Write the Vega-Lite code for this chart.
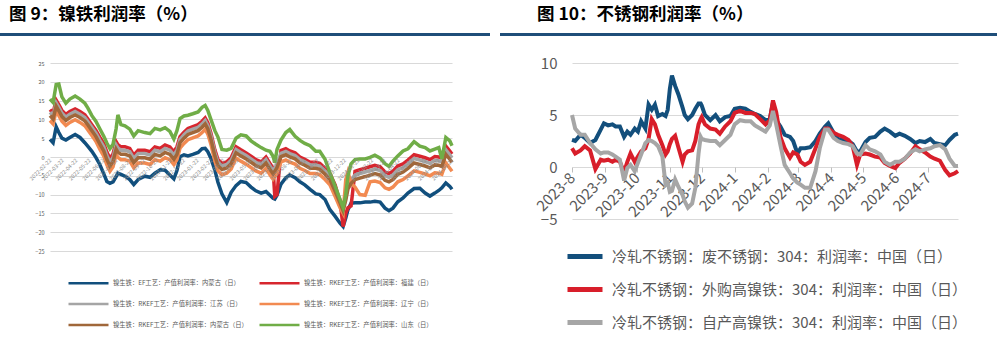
{
"$schema":"https://vega.github.io/schema/vega-lite/v6.json",
"background":"#ffffff",
"padding":{"left":0,"top":6,"right":0,"bottom":0},
"config":{"font":"Noto Sans CJK SC","view":{"stroke":null}},
"bounds":"flush",
"spacing":30,
"resolve":{"scale":{"color":"independent"},"legend":{"color":"independent"}},
"vconcat":[
{"hconcat":[
 {"width":490,"height":3,"view":{"fill":"#1f4e79","stroke":null},
  "title":{"text":"图 9：镍铁利润率（%）","anchor":"start","frame":"group","fontSize":17.5,"fontWeight":"bold","color":"#000000","font":"Noto Sans CJK SC","offset":-10,"dx":9,"baseline":"bottom"},
  "data":{"values":[{}]},"mark":{"type":"point","opacity":0},"encoding":{}},
 {"width":497,"height":3,"view":{"fill":"#1f4e79","stroke":null},
  "title":{"text":"图 10：不锈钢利润率（%）","anchor":"start","frame":"group","fontSize":17.5,"fontWeight":"bold","color":"#000000","font":"Noto Sans CJK SC","offset":-10,"dx":37,"baseline":"bottom"},
  "data":{"values":[{}]},"mark":{"type":"point","opacity":0},"encoding":{}}
],"spacing":10,"bounds":"flush"},
{"hconcat":[
 {"width":40,"height":1,"data":{"values":[{}]},"mark":{"type":"point","opacity":0},"encoding":{}},
 {"width":402,"height":188,
  "data":{"values":[
{"d":"2022-02-22","E":4.7,"R":12.6,"Gy":11.9,"O":9.7,"B":11,"G":15.4},
{"d":"2022-03-01","E":3.8,"R":11.7,"Gy":11.0,"O":8.8,"B":10.1,"G":14.5},
{"d":"2022-03-08","E":8.0,"R":15.1,"Gy":14.4,"O":12.2,"B":13.5,"G":19.3},
{"d":"2022-03-14","E":6.5,"R":13.9,"Gy":13.2,"O":11.0,"B":12.3,"G":19.4},
{"d":"2022-03-21","E":5.0,"R":12.4,"Gy":11.7,"O":9.5,"B":10.8,"G":16.0},
{"d":"2022-03-30","E":4.5,"R":11.3,"Gy":10.6,"O":8.4,"B":9.7,"G":14.3},
{"d":"2022-04-08","E":5.2,"R":12.1,"Gy":11.4,"O":9.2,"B":10.5,"G":15.4},
{"d":"2022-04-20","E":6.0,"R":12.8,"Gy":12.1,"O":9.9,"B":11.2,"G":16.2},
{"d":"2022-05-01","E":5.2,"R":12.1,"Gy":11.4,"O":9.2,"B":10.5,"G":15.4},
{"d":"2022-05-12","E":3.8,"R":11.2,"Gy":10.5,"O":8.3,"B":9.6,"G":14.3},
{"d":"2022-05-19","E":2.8,"R":10.1,"Gy":9.4,"O":7.2,"B":8.5,"G":13.0},
{"d":"2022-05-28","E":1.5,"R":8.6,"Gy":7.9,"O":5.7,"B":7.0,"G":11.0},
{"d":"2022-06-06","E":-0.1,"R":7.1,"Gy":6.4,"O":4.2,"B":5.5,"G":9.5},
{"d":"2022-06-15","E":-2.0,"R":5.3,"Gy":4.5,"O":2.1,"B":3.5,"G":7.5},
{"d":"2022-06-24","E":-4.5,"R":3.6,"Gy":2.7,"O":0.2,"B":1.6,"G":5.5},
{"d":"2022-07-01","E":-6.5,"R":1.3,"Gy":0.4,"O":-2.1,"B":-0.7,"G":3.7},
{"d":"2022-07-08","E":-7.0,"R":-0.4,"Gy":-1.3,"O":-3.8,"B":-2.4,"G":2.2},
{"d":"2022-07-15","E":-6.6,"R":0.8,"Gy":-0.1,"O":-2.6,"B":-1.2,"G":3.4},
{"d":"2022-07-22","E":-5.2,"R":4.1,"Gy":3.2,"O":0.7,"B":2.1,"G":7.5},
{"d":"2022-07-26","E":-4.3,"R":3.3,"Gy":2.4,"O":-0.1,"B":1.3,"G":11.2},
{"d":"2022-08-02","E":-4.6,"R":2.7,"Gy":1.8,"O":-0.7,"B":0.7,"G":8.6},
{"d":"2022-08-11","E":-5.1,"R":2.7,"Gy":1.8,"O":-0.7,"B":0.7,"G":8.3},
{"d":"2022-08-22","E":-6.0,"R":2.3,"Gy":1.4,"O":-1.1,"B":0.3,"G":7.4},
{"d":"2022-08-31","E":-7.3,"R":0.5,"Gy":-0.4,"O":-2.9,"B":-1.5,"G":5.6},
{"d":"2022-09-10","E":-6.0,"R":1.8,"Gy":0.9,"O":-1.6,"B":-0.2,"G":7.0},
{"d":"2022-09-25","E":-5.1,"R":1.8,"Gy":0.9,"O":-1.6,"B":-0.2,"G":6.5},
{"d":"2022-10-07","E":-5.4,"R":1.4,"Gy":0.5,"O":-2.0,"B":-0.6,"G":6.2},
{"d":"2022-10-18","E":-4.3,"R":2.7,"Gy":1.8,"O":-0.7,"B":0.7,"G":7.6},
{"d":"2022-10-30","E":-3.4,"R":2.3,"Gy":1.4,"O":-1.1,"B":0.3,"G":7.2},
{"d":"2022-11-10","E":-3.5,"R":3.2,"Gy":2.3,"O":-0.2,"B":1.2,"G":7.8},
{"d":"2022-11-21","E":-4.8,"R":2.7,"Gy":1.8,"O":-0.7,"B":0.7,"G":6.8},
{"d":"2022-11-30","E":-5.8,"R":1.4,"Gy":0.5,"O":-2.0,"B":-0.6,"G":4.8},
{"d":"2022-12-07","E":-3.6,"R":2.7,"Gy":1.8,"O":-0.7,"B":0.7,"G":7.0},
{"d":"2022-12-14","E":0.1,"R":5.4,"Gy":4.7,"O":2.4,"B":3.8,"G":10.2},
{"d":"2022-12-23","E":0.6,"R":6.6,"Gy":5.9,"O":3.6,"B":5.0,"G":10.9},
{"d":"2023-01-01","E":0.3,"R":7.6,"Gy":6.9,"O":4.6,"B":6.0,"G":11.1},
{"d":"2023-01-12","E":0.7,"R":8.1,"Gy":7.4,"O":5.1,"B":6.5,"G":11.5},
{"d":"2023-01-24","E":1.2,"R":8.6,"Gy":7.9,"O":5.6,"B":7.0,"G":12.0},
{"d":"2023-02-02","E":2.2,"R":9.5,"Gy":8.8,"O":6.5,"B":7.9,"G":13.2},
{"d":"2023-02-09","E":2.3,"R":10.4,"Gy":9.7,"O":7.4,"B":8.8,"G":13.7},
{"d":"2023-02-15","E":1.4,"R":9.1,"Gy":8.4,"O":6.1,"B":7.5,"G":12.4},
{"d":"2023-02-22","E":-0.3,"R":6.4,"Gy":5.7,"O":3.4,"B":4.8,"G":10.0},
{"d":"2023-03-03","E":-3.5,"R":1.9,"Gy":1.2,"O":-1.1,"B":0.3,"G":7.0},
{"d":"2023-03-10","E":-6.7,"R":-0.7,"Gy":-1.4,"O":-3.7,"B":-2.3,"G":5.3},
{"d":"2023-03-19","E":-9.8,"R":-1.7,"Gy":-2.4,"O":-4.7,"B":-3.3,"G":2.0},
{"d":"2023-03-30","E":-12.1,"R":-1.3,"Gy":-2.0,"O":-4.3,"B":-2.9,"G":1.8},
{"d":"2023-04-09","E":-9.4,"R":-0.2,"Gy":-0.9,"O":-3.2,"B":-1.8,"G":2.3},
{"d":"2023-04-20","E":-7.6,"R":2.7,"Gy":2.0,"O":-0.3,"B":1.1,"G":5.0},
{"d":"2023-05-01","E":-6.5,"R":1.9,"Gy":1.2,"O":-1.1,"B":0.3,"G":5.9},
{"d":"2023-05-13","E":-6.8,"R":1.1,"Gy":0.4,"O":-1.9,"B":-0.5,"G":5.6},
{"d":"2023-05-24","E":-8.0,"R":0.2,"Gy":-0.5,"O":-2.8,"B":-1.4,"G":4.3},
{"d":"2023-06-04","E":-9.0,"R":-0.7,"Gy":-1.4,"O":-3.7,"B":-2.3,"G":3.4},
{"d":"2023-06-16","E":-9.6,"R":-1.3,"Gy":-2.0,"O":-4.3,"B":-2.9,"G":2.5},
{"d":"2023-06-27","E":-9.2,"R":0.0,"Gy":-0.7,"O":-3.0,"B":-1.6,"G":1.8},
{"d":"2023-07-06","E":-10.2,"R":-1.7,"Gy":-2.4,"O":-4.7,"B":-3.3,"G":1.5},
{"d":"2023-07-13","E":-11.0,"R":-2.9,"Gy":-3.6,"O":-5.9,"B":-4.5,"G":0.2},
{"d":"2023-07-17","E":-11.2,"R":-10.5,"Gy":-2.9,"O":-5.2,"B":-3.8,"G":-1.5},
{"d":"2023-07-22","E":-10.2,"R":-10.0,"Gy":-1.9,"O":-4.2,"B":-2.8,"G":2.0},
{"d":"2023-07-31","E":-7.2,"R":1.7,"Gy":1.0,"O":-1.3,"B":0.1,"G":4.5},
{"d":"2023-08-11","E":-5.5,"R":2.2,"Gy":1.5,"O":-0.8,"B":0.6,"G":6.5},
{"d":"2023-08-20","E":-4.8,"R":1.6,"Gy":0.9,"O":-1.4,"B":0.0,"G":7.3},
{"d":"2023-09-01","E":-5.5,"R":1.1,"Gy":0.4,"O":-1.9,"B":-0.5,"G":5.5},
{"d":"2023-09-12","E":-6.6,"R":0.0,"Gy":-0.7,"O":-3.0,"B":-1.6,"G":4.4},
{"d":"2023-09-23","E":-7.4,"R":-0.6,"Gy":-1.3,"O":-3.6,"B":-2.2,"G":3.6},
{"d":"2023-10-05","E":-8.6,"R":-1.4,"Gy":-2.1,"O":-4.4,"B":-3.0,"G":3.0},
{"d":"2023-10-18","E":-9.8,"R":-1.4,"Gy":-2.1,"O":-4.4,"B":-3.0,"G":1.5},
{"d":"2023-10-27","E":-10.0,"R":-1.7,"Gy":-2.4,"O":-4.7,"B":-3.3,"G":1.5},
{"d":"2023-11-08","E":-11.3,"R":-3.0,"Gy":-3.7,"O":-6.0,"B":-4.6,"G":-0.6},
{"d":"2023-11-19","E":-14.0,"R":-4.4,"Gy":-5.1,"O":-7.4,"B":-6.0,"G":-4.2},
{"d":"2023-12-01","E":-15.8,"R":-7.5,"Gy":-8.2,"O":-10.5,"B":-9.1,"G":-7.8},
{"d":"2023-12-12","E":-17.6,"R":-12.0,"Gy":-11.3,"O":-13.5,"B":-12.2,"G":-11.3},
{"d":"2023-12-19","E":-18.5,"R":-18.5,"Gy":-13.8,"O":-15.0,"B":-14.3,"G":-13.5},
{"d":"2023-12-25","E":-16.2,"R":-15.0,"Gy":-10.8,"O":-6.0,"B":-11.5,"G":-10.0},
{"d":"2023-12-30","E":-14.0,"R":-13.5,"Gy":-7.6,"O":-4.0,"B":-8.5,"G":-5.0},
{"d":"2024-01-06","E":-12.3,"R":-13.0,"Gy":-6.1,"O":-7.0,"B":-7.0,"G":-1.8},
{"d":"2024-01-15","E":-12.2,"R":-3.8,"Gy":-4.8,"O":-8.0,"B":-6.0,"G":-0.7},
{"d":"2024-01-26","E":-12.2,"R":-3.4,"Gy":-4.4,"O":-10.0,"B":-5.6,"G":-0.5},
{"d":"2024-02-07","E":-12.0,"R":-3.0,"Gy":-4.0,"O":-10.2,"B":-5.2,"G":-0.5},
{"d":"2024-02-18","E":-12.0,"R":-2.6,"Gy":-3.6,"O":-6.6,"B":-4.8,"G":-0.1},
{"d":"2024-02-29","E":-11.8,"R":-2.2,"Gy":-3.2,"O":-6.4,"B":-4.4,"G":0.5},
{"d":"2024-03-12","E":-12.0,"R":-2.6,"Gy":-3.6,"O":-6.8,"B":-4.8,"G":-0.3},
{"d":"2024-03-23","E":-13.6,"R":-4.0,"Gy":-5.0,"O":-8.2,"B":-6.2,"G":-1.8},
{"d":"2024-04-01","E":-14.3,"R":-4.4,"Gy":-5.4,"O":-8.6,"B":-6.6,"G":-2.5},
{"d":"2024-04-10","E":-13.6,"R":-3.8,"Gy":-4.8,"O":-8.0,"B":-6.0,"G":-1.1},
{"d":"2024-04-21","E":-11.9,"R":-2.4,"Gy":-3.4,"O":-6.6,"B":-4.6,"G":0.3},
{"d":"2024-05-03","E":-10.9,"R":-1.8,"Gy":-2.8,"O":-6.0,"B":-4.0,"G":1.6},
{"d":"2024-05-14","E":-9.6,"R":-0.8,"Gy":-1.8,"O":-5.0,"B":-3.0,"G":2.2},
{"d":"2024-05-28","E":-8.4,"R":0.6,"Gy":-0.4,"O":-3.7,"B":-1.6,"G":4.1},
{"d":"2024-06-10","E":-8.3,"R":0.2,"Gy":-0.8,"O":-4.1,"B":-2.0,"G":2.9},
{"d":"2024-06-22","E":-9.6,"R":-0.2,"Gy":-1.2,"O":-4.5,"B":-2.4,"G":2.5},
{"d":"2024-07-03","E":-10.4,"R":-0.7,"Gy":-1.7,"O":-5.0,"B":-2.9,"G":1.6},
{"d":"2024-07-14","E":-9.6,"R":0.1,"Gy":-0.9,"O":-4.2,"B":-2.1,"G":2.1},
{"d":"2024-07-23","E":-8.9,"R":0.0,"Gy":-1.0,"O":-4.3,"B":-2.2,"G":2.5},
{"d":"2024-07-30","E":-8.2,"R":-0.3,"Gy":-1.3,"O":-4.6,"B":-2.5,"G":-0.5},
{"d":"2024-08-08","E":-6.9,"R":2.9,"Gy":1.9,"O":-1.6,"B":0.7,"G":5.2},
{"d":"2024-08-17","E":-7.8,"R":1.6,"Gy":0.6,"O":-3.0,"B":-0.6,"G":4.3},
{"d":"2024-08-22","E":-8.6,"R":0.8,"Gy":-0.2,"O":-3.8,"B":-1.4,"G":3.0}
  ]},
  "transform":[
   {"fold":["E","R","Gy","O","B","G"],"as":["k","v"]},
   {"lookup":"k","from":{"data":{"values":[
     {"k":"E","name":"镍生铁：EF工艺：产值利润率：内蒙古（日）"},
     {"k":"R","name":"镍生铁：RKEF工艺：产值利润率：福建（日）"},
     {"k":"Gy","name":"镍生铁：RKEF工艺：产值利润率：江苏（日）"},
     {"k":"O","name":"镍生铁：RKEF工艺：产值利润率：辽宁（日）"},
     {"k":"B","name":"镍生铁：RKEF工艺：产值利润率：内蒙古（日）"},
     {"k":"G","name":"镍生铁：RKEF工艺：产值利润率：山东（日）"}]},"key":"k","fields":["name"]}}
  ],
  "mark":{"type":"line","strokeWidth":3.5},
  "encoding":{
   "x":{"field":"d","type":"temporal","scale":{"type":"utc"},
    "axis":{"title":null,"format":"%Y-%m-%d","labelAngle":-45,"labelAlign":"right","labelBaseline":"middle","labelFontSize":5.5,"labelColor":"#8c8c8c","ticks":false,"domain":false,"grid":false,"offset":-94,"labelPadding":2,"labelOverlap":false,"labelFlush":false,"zindex":1,
     "values":[
      {"year":2022,"month":2,"date":22,"utc":true},{"year":2022,"month":3,"date":22,"utc":true},{"year":2022,"month":4,"date":22,"utc":true},{"year":2022,"month":5,"date":22,"utc":true},{"year":2022,"month":6,"date":22,"utc":true},{"year":2022,"month":7,"date":22,"utc":true},{"year":2022,"month":8,"date":22,"utc":true},{"year":2022,"month":9,"date":22,"utc":true},{"year":2022,"month":10,"date":22,"utc":true},{"year":2022,"month":11,"date":22,"utc":true},{"year":2022,"month":12,"date":22,"utc":true},
      {"year":2023,"month":1,"date":22,"utc":true},{"year":2023,"month":2,"date":22,"utc":true},{"year":2023,"month":3,"date":22,"utc":true},{"year":2023,"month":4,"date":22,"utc":true},{"year":2023,"month":5,"date":22,"utc":true},{"year":2023,"month":6,"date":22,"utc":true},{"year":2023,"month":7,"date":22,"utc":true},{"year":2023,"month":8,"date":22,"utc":true},{"year":2023,"month":9,"date":22,"utc":true},{"year":2023,"month":10,"date":22,"utc":true},{"year":2023,"month":11,"date":22,"utc":true},{"year":2023,"month":12,"date":22,"utc":true},
      {"year":2024,"month":1,"date":22,"utc":true},{"year":2024,"month":2,"date":22,"utc":true},{"year":2024,"month":3,"date":22,"utc":true},{"year":2024,"month":4,"date":22,"utc":true},{"year":2024,"month":5,"date":22,"utc":true},{"year":2024,"month":6,"date":22,"utc":true},{"year":2024,"month":7,"date":22,"utc":true},{"year":2024,"month":8,"date":22,"utc":true}]}},
   "y":{"field":"v","type":"quantitative","scale":{"domain":[-25,25],"nice":false,"zero":false},
    "axis":{"title":null,"values":[-25,-20,-15,-10,-5,0,5,10,15,20,25],"labelFontSize":5.5,"labelColor":"#595959","labelPadding":6,"ticks":false,"domain":false,"grid":true,"gridColor":"#d9d9d9","gridWidth":1}},
   "color":{"field":"name","type":"nominal",
    "scale":{"domain":["镍生铁：EF工艺：产值利润率：内蒙古（日）","镍生铁：RKEF工艺：产值利润率：福建（日）","镍生铁：RKEF工艺：产值利润率：江苏（日）","镍生铁：RKEF工艺：产值利润率：辽宁（日）","镍生铁：RKEF工艺：产值利润率：内蒙古（日）","镍生铁：RKEF工艺：产值利润率：山东（日）"],
     "range":["#114f7d","#d7262e","#a5a5a5","#f28a51","#a0673a","#70ad47"]},
    "legend":{"title":null,"orient":"none","direction":"horizontal","legendX":17,"legendY":217,"columns":2,"symbolType":"stroke","symbolSize":1600,"symbolStrokeWidth":2.5,"clipHeight":6,"labelFontSize":6.3,"labelColor":"#595959","labelOffset":3,"rowPadding":14,"columnPadding":10,"labelLimit":300}}
  }},
 {"width":100,"height":1,"data":{"values":[{}]},"mark":{"type":"point","opacity":0},"encoding":{}},
 {"width":386,"height":156,
  "data":{"values":[
{"d":"2023-08-01","W":2.6,"P":1.8,"Z":5.0},
{"d":"2023-08-04","W":2.5,"P":1.3,"Z":3.7},
{"d":"2023-08-09","W":3.1,"P":1.6,"Z":3.1},
{"d":"2023-08-13","W":2.8,"P":2.0,"Z":3.1},
{"d":"2023-08-18","W":2.3,"P":1.6,"Z":2.3},
{"d":"2023-08-23","W":2.6,"P":-0.2,"Z":1.7},
{"d":"2023-08-28","W":3.6,"P":0.7,"Z":1.3},
{"d":"2023-08-31","W":4.2,"P":0.6,"Z":1.4},
{"d":"2023-09-04","W":4.0,"P":0.7,"Z":1.4},
{"d":"2023-09-08","W":4.1,"P":0.5,"Z":1.2},
{"d":"2023-09-11","W":3.9,"P":0.7,"Z":1.0},
{"d":"2023-09-15","W":3.9,"P":0.5,"Z":0.7},
{"d":"2023-09-19","W":2.9,"P":-0.5,"Z":-1.3},
{"d":"2023-09-22","W":3.4,"P":0.5,"Z":-0.1},
{"d":"2023-09-25","W":3.1,"P":1.3,"Z":0.2},
{"d":"2023-09-29","W":3.7,"P":0.5,"Z":-0.4},
{"d":"2023-10-02","W":3.4,"P":1.0,"Z":0.4},
{"d":"2023-10-05","W":4.4,"P":1.5,"Z":1.2},
{"d":"2023-10-09","W":3.7,"P":1.8,"Z":2.3},
{"d":"2023-10-12","W":6.0,"P":2.7,"Z":2.6},
{"d":"2023-10-15","W":5.5,"P":4.6,"Z":2.5},
{"d":"2023-10-18","W":6.0,"P":4.1,"Z":2.3},
{"d":"2023-10-21","W":4.9,"P":3.1,"Z":2.0},
{"d":"2023-10-25","W":5.1,"P":2.1,"Z":1.0},
{"d":"2023-10-28","W":4.9,"P":1.2,"Z":-1.7},
{"d":"2023-10-30","W":5.5,"P":1.5,"Z":-1.5},
{"d":"2023-11-01","W":7.5,"P":2.2,"Z":-2.4},
{"d":"2023-11-03","W":8.8,"P":2.7,"Z":-2.3},
{"d":"2023-11-06","W":7.8,"P":3.0,"Z":-1.2},
{"d":"2023-11-09","W":7.0,"P":1.9,"Z":-1.9},
{"d":"2023-11-13","W":5.7,"P":0.5,"Z":-2.7},
{"d":"2023-11-15","W":5.0,"P":1.2,"Z":-3.3},
{"d":"2023-11-18","W":4.6,"P":1.5,"Z":-3.9},
{"d":"2023-11-22","W":5.0,"P":1.6,"Z":-3.5},
{"d":"2023-11-25","W":5.6,"P":2.5,"Z":-2.0},
{"d":"2023-11-28","W":6.1,"P":4.1,"Z":1.3},
{"d":"2023-11-30","W":6.1,"P":4.6,"Z":2.9},
{"d":"2023-12-01","W":5.9,"P":4.8,"Z":2.7},
{"d":"2023-12-04","W":5.0,"P":4.1,"Z":2.6},
{"d":"2023-12-09","W":4.5,"P":3.7,"Z":2.5},
{"d":"2023-12-14","W":5.0,"P":3.6,"Z":2.5},
{"d":"2023-12-18","W":4.4,"P":3.2,"Z":2.1},
{"d":"2023-12-23","W":4.8,"P":3.9,"Z":2.6},
{"d":"2023-12-28","W":4.9,"P":4.4,"Z":3.1},
{"d":"2024-01-01","W":5.6,"P":5.2,"Z":4.1},
{"d":"2024-01-06","W":5.7,"P":5.4,"Z":4.5},
{"d":"2024-01-11","W":5.6,"P":5.2,"Z":4.4},
{"d":"2024-01-16","W":5.3,"P":5.2,"Z":4.4},
{"d":"2024-01-20","W":5.1,"P":5.1,"Z":4.0},
{"d":"2024-01-25","W":4.9,"P":4.6,"Z":3.7},
{"d":"2024-01-30","W":4.5,"P":4.1,"Z":3.4},
{"d":"2024-02-03","W":4.6,"P":4.5,"Z":4.0},
{"d":"2024-02-06","W":6.2,"P":6.4,"Z":5.4},
{"d":"2024-02-09","W":4.5,"P":5.3,"Z":4.1},
{"d":"2024-02-13","W":3.9,"P":2.9,"Z":2.1},
{"d":"2024-02-17","W":3.1,"P":1.8,"Z":0.2},
{"d":"2024-02-22","W":2.9,"P":0.9,"Z":-0.6},
{"d":"2024-02-25","W":2.5,"P":1.4,"Z":-1.1},
{"d":"2024-02-29","W":1.3,"P":1.2,"Z":-1.5},
{"d":"2024-03-03","W":1.8,"P":0.5,"Z":-1.7},
{"d":"2024-03-07","W":1.8,"P":0.2,"Z":-2.0},
{"d":"2024-03-12","W":1.9,"P":0.5,"Z":-2.0},
{"d":"2024-03-17","W":2.5,"P":1.8,"Z":-0.4},
{"d":"2024-03-21","W":3.2,"P":2.9,"Z":1.8},
{"d":"2024-03-26","W":3.9,"P":3.7,"Z":3.6},
{"d":"2024-03-29","W":4.2,"P":3.7,"Z":3.6},
{"d":"2024-04-03","W":3.3,"P":3.3,"Z":2.8},
{"d":"2024-04-07","W":2.7,"P":3.1,"Z":2.5},
{"d":"2024-04-12","W":2.6,"P":2.9,"Z":2.3},
{"d":"2024-04-17","W":2.5,"P":2.6,"Z":2.2},
{"d":"2024-04-21","W":2.2,"P":2.0,"Z":2.0},
{"d":"2024-04-25","W":1.5,"P":0.2,"Z":1.3},
{"d":"2024-04-28","W":1.5,"P":1.2,"Z":1.2},
{"d":"2024-05-03","W":2.4,"P":1.3,"Z":2.1},
{"d":"2024-05-07","W":2.8,"P":1.2,"Z":1.7},
{"d":"2024-05-12","W":2.9,"P":1.0,"Z":1.5},
{"d":"2024-05-17","W":3.4,"P":0.9,"Z":1.2},
{"d":"2024-05-21","W":3.7,"P":0.4,"Z":0.5},
{"d":"2024-05-26","W":3.4,"P":0.1,"Z":0.2},
{"d":"2024-05-31","W":3.0,"P":-0.1,"Z":0.5},
{"d":"2024-06-04","W":3.2,"P":0.4,"Z":0.5},
{"d":"2024-06-09","W":3.0,"P":0.8,"Z":0.8},
{"d":"2024-06-14","W":2.7,"P":1.3,"Z":1.4},
{"d":"2024-06-19","W":2.3,"P":2.0,"Z":1.7},
{"d":"2024-06-23","W":2.5,"P":1.7,"Z":1.5},
{"d":"2024-06-28","W":2.4,"P":1.4,"Z":1.7},
{"d":"2024-07-03","W":2.7,"P":1.0,"Z":1.8},
{"d":"2024-07-07","W":2.3,"P":0.8,"Z":2.0},
{"d":"2024-07-12","W":2.2,"P":0.6,"Z":2.1},
{"d":"2024-07-17","W":2.1,"P":-0.3,"Z":1.7},
{"d":"2024-07-21","W":2.6,"P":-0.8,"Z":0.8},
{"d":"2024-07-26","W":3.1,"P":-0.6,"Z":0.1},
{"d":"2024-07-29","W":3.2,"P":-0.4,"Z":0.1}
  ]},
  "transform":[
   {"fold":["W","P","Z"],"as":["k","v"]},
   {"lookup":"k","from":{"data":{"values":[
     {"k":"W","name":"冷轧不锈钢：废不锈钢：304：利润率：中国（日）"},
     {"k":"P","name":"冷轧不锈钢：外购高镍铁：304：利润率：中国（日）"},
     {"k":"Z","name":"冷轧不锈钢：自产高镍铁：304：利润率：中国（日）"}]},"key":"k","fields":["name"]}}
  ],
  "mark":{"type":"line","strokeWidth":4},
  "encoding":{
   "x":{"field":"d","type":"temporal","scale":{"type":"utc"},
    "axis":{"title":null,"format":"%Y-%-m","labelAngle":-45,"labelAlign":"right","labelBaseline":"middle","labelFontSize":15,"labelColor":"#595959","ticks":true,"tickColor":"#bfbfbf","tickSize":5,"domain":false,"grid":false,"offset":-52,"labelPadding":3,"labelOverlap":false,"labelFlush":false,
     "values":[
      {"year":2023,"month":8,"date":1,"utc":true},{"year":2023,"month":9,"date":1,"utc":true},{"year":2023,"month":10,"date":1,"utc":true},{"year":2023,"month":11,"date":1,"utc":true},{"year":2023,"month":12,"date":1,"utc":true},
      {"year":2024,"month":1,"date":1,"utc":true},{"year":2024,"month":2,"date":1,"utc":true},{"year":2024,"month":3,"date":1,"utc":true},{"year":2024,"month":4,"date":1,"utc":true},{"year":2024,"month":5,"date":1,"utc":true},{"year":2024,"month":6,"date":1,"utc":true},{"year":2024,"month":7,"date":1,"utc":true}]}},
   "y":{"field":"v","type":"quantitative","scale":{"domain":[-5,10],"nice":false,"zero":false},
    "axis":{"title":null,"values":[-5,0,5,10],"labelFontSize":15,"labelColor":"#595959","labelPadding":15,"ticks":false,"domain":false,"grid":true,"gridColor":"#d9d9d9","gridWidth":1}},
   "color":{"field":"name","type":"nominal",
    "scale":{"domain":["冷轧不锈钢：废不锈钢：304：利润率：中国（日）","冷轧不锈钢：外购高镍铁：304：利润率：中国（日）","冷轧不锈钢：自产高镍铁：304：利润率：中国（日）"],
     "range":["#134f7c","#d81e2a","#a6a6a6"]},
    "legend":{"title":null,"orient":"none","legendX":-7,"legendY":185,"symbolType":"stroke","symbolSize":1225,"symbolStrokeWidth":5,"clipHeight":17,"labelFontSize":15,"labelColor":"#595959","labelOffset":7,"rowPadding":16,"labelLimit":500}}
  }}
],"spacing":10,"bounds":"flush","resolve":{"scale":{"color":"independent"},"legend":{"color":"independent"}}}
]
}
